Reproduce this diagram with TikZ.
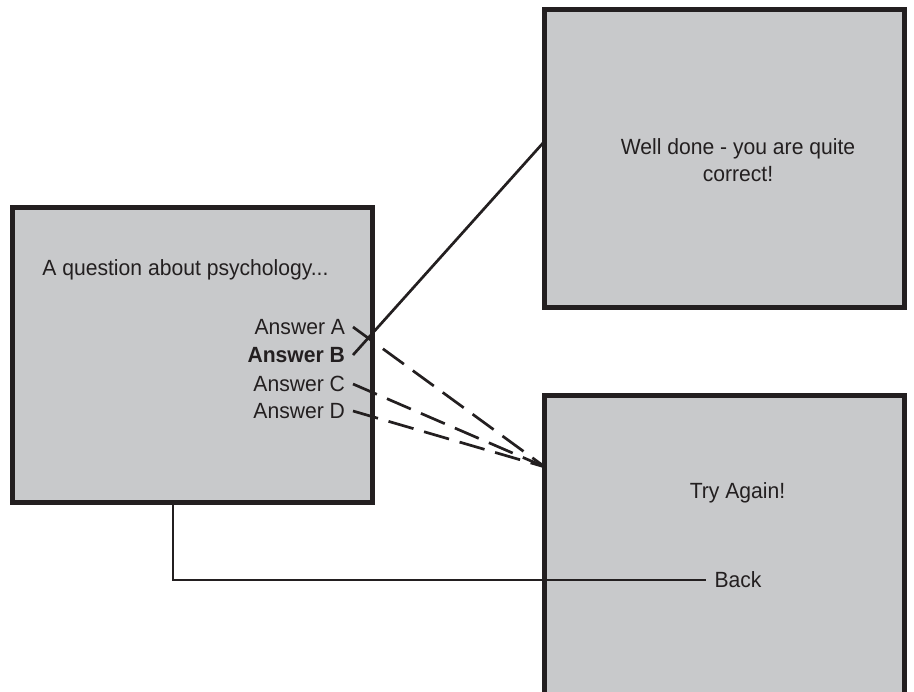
\documentclass[tikz,border=0pt]{standalone}
\usepackage{fontspec}
\setmainfont{Liberation Sans}[FakeStretch=0.96]
\usepackage{tikz}
\usetikzlibrary{calc,positioning}
\definecolor{QZInk}{HTML}{231F20}
\definecolor{QZPanel}{HTML}{C8C9CB}
\tikzset{
  screen/.style={draw=QZInk,fill=QZPanel,line width=2.5pt,rectangle,
                 inner sep=0pt,outer sep=0pt},
  qtext/.style={text=QZInk,font=\fontsize{11}{13.5}\selectfont,inner sep=0pt},
  answer/.style={qtext,anchor=east,outer sep=4pt},
  link/.style={draw=QZInk,line width=1.35pt},
  wrong/.style={link,dash pattern=on 13pt off 5.5pt},
  backline/.style={draw=QZInk,line width=1pt},
}

\begin{document}
\begin{tikzpicture}[x=0.5pt,y=-0.5pt]
    \clip (0,0) rectangle (914,691);
    \node[screen,minimum width=180pt,minimum height=147.5pt] (question) at (192.5,355) {};
    \node[screen,minimum width=180pt,minimum height=149pt] (welldone) at (724.5,158.5) {};
    \node[screen,minimum width=180pt,minimum height=160pt,anchor=north] (tryagain) at (724.5,395.5) {};
    \node[qtext,anchor=west] (qtitle) at (42,270) {A question about psychology...};
    \node[answer] (ansA) at (353,327) {Answer A};
    \node[answer] (ansB) at (353,355) {\bfseries Answer B};
    \node[answer] (ansC) at (353,384) {Answer C};
    \node[answer] (ansD) at (353,411) {Answer D};
    \node[qtext,align=center] (welltext) at (738,160) {Well done - you are quite\\correct!};
    \node[qtext] (trytext) at (737.5,493) {Try Again!};
    \node[qtext,inner sep=4pt] (back) at (738,580) {Back};
    \coordinate (wellin) at (543,143);
    \coordinate (tryin) at (545,467);
    \draw[link] (ansB.east) -- (wellin);
    \draw[wrong] (ansA.east) -- (tryin);
    \draw[wrong] (ansC.east) -- (tryin);
    \draw[wrong] (ansD.east) -- (tryin);
    \draw[backline] (question.south) ++(-19.5,0) |- (back.west);
  \end{tikzpicture}
\end{document}
